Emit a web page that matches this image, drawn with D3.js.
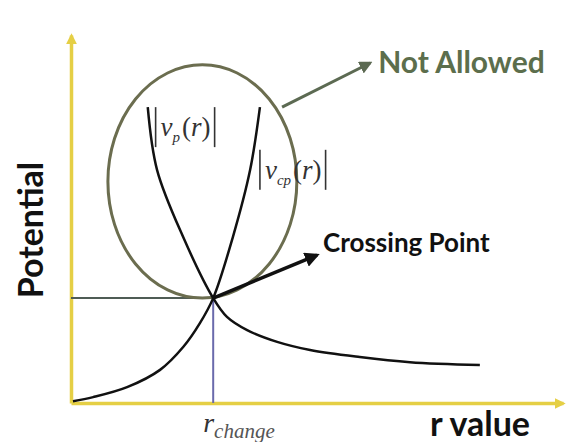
<!DOCTYPE html>
<html>
<head>
<meta charset="utf-8">
<script src="https://cdn.jsdelivr.net/npm/d3@7"></script>
<style>
  body { margin: 0; background: #fff; }
  svg { display: block; }
</style>
</head>
<body>
<svg width="566" height="442"></svg>
<script>
(function (d3) {
  // conceptual units: r from 0 to 10, potential from 0 to 10
  const rDomain = [0, 10];
  const vDomain = [0, 10];

  // |v_p(r)| : falls steeply, passes the crossing, then flattens out
  const vpR = [1.56, 1.75, 2.28, 2.89, 3.17, 3.58, 4.19, 4.86, 5.87, 6.89, 8.31];
  const vpV = [8.04, 6.33, 4.51, 2.85, 2.34, 1.98, 1.66, 1.44, 1.25, 1.11, 1.03];

  // |v_cp(r)| : rises slowly from the origin, then steeply
  const vcpR = [0.04, 0.45, 1.14, 1.81, 2.28, 2.62, 2.89, 3.29, 3.64, 3.84];
  const vcpV = [0.05, 0.16, 0.43, 0.90, 1.52, 2.17, 2.85, 4.51, 6.33, 8.04];

  // crossing point
  const rChange = 2.89;
  const vChange = 2.85;

  // "not allowed" region (centre r, centre V, half width, half height)
  const region = [2.67, 6.02, 1.92, 3.17];

  // annotation arrows [r0, v0, r1, v1]
  const notAllowedArrow = [4.29, 8.04, 6.08, 9.24];
  const crossingArrow = [2.89, 2.85, 5.00, 4.02];

  // label anchors [r, v]
  const vpLabelAt = [1.72, 8.04];
  const vcpLabelAt = [3.84, 6.88];

  const svg = d3.select('svg');
  const margin = { top: 35, right: 3, bottom: 39, left: 71 };
  const width = +svg.attr('width');
  const height = +svg.attr('height');

  const xScale = d3.scaleLinear()
    .domain(rDomain)
    .range([margin.left, width - margin.right]);
  const yScale = d3.scaleLinear()
    .domain(vDomain)
    .range([height - margin.bottom, margin.top]);

  const defs = svg.append('defs');
  const marker = (id, color, size) => {
    defs.append('marker')
      .attr('id', id)
      .attr('viewBox', '0 0 10 10')
      .attr('refX', 8).attr('refY', 5)
      .attr('markerUnits', 'userSpaceOnUse')
      .attr('markerWidth', size).attr('markerHeight', size)
      .attr('orient', 'auto')
      .append('path')
        .attr('d', 'M0,0L10,5L0,10z')
        .attr('fill', color);
  };
  marker('head-yellow', '#e5cf45', 11);
  marker('head-green', '#5c6a52', 13);
  marker('head-black', '#111', 15);

  // axes without ticks, just the yellow arrows
  const xAxisG = svg.append('g')
    .attr('transform', `translate(0,${yScale(0)})`)
    .call(d3.axisBottom(xScale).tickValues([]).tickSizeOuter(0));
  const yAxisG = svg.append('g')
    .attr('transform', `translate(${xScale(0)},0)`)
    .call(d3.axisLeft(yScale).tickValues([]).tickSizeOuter(0));
  [xAxisG, yAxisG].forEach(g => g.select('.domain')
    .attr('stroke', '#e5cf45')
    .attr('stroke-width', 3.5)
    .attr('marker-end', 'url(#head-yellow)'));

  // guide lines to the crossing point
  svg.append('line')
    .attr('x1', xScale(0)).attr('y1', yScale(vChange))
    .attr('x2', xScale(rChange)).attr('y2', yScale(vChange))
    .attr('stroke', '#4f5c55').attr('stroke-width', 2);
  svg.append('line')
    .attr('x1', xScale(rChange)).attr('y1', yScale(vChange))
    .attr('x2', xScale(rChange)).attr('y2', yScale(0))
    .attr('stroke', '#6a6aac').attr('stroke-width', 2);

  // not-allowed ellipse
  svg.append('ellipse')
    .attr('cx', xScale(region[0]))
    .attr('cy', yScale(region[1]))
    .attr('rx', xScale(region[0] + region[2]) - xScale(region[0]))
    .attr('ry', yScale(region[1]) - yScale(region[1] + region[3]))
    .attr('fill', 'none')
    .attr('stroke', '#6b6d4f')
    .attr('stroke-width', 3);

  // potential curves
  const line = d3.line()
    .x(d => xScale(d[0]))
    .y(d => yScale(d[1]))
    .curve(d3.curveCatmullRom.alpha(0.5));
  svg.append('path')
    .datum(vpR.map((r, i) => [r, vpV[i]]))
    .attr('d', line)
    .attr('fill', 'none').attr('stroke', '#111').attr('stroke-width', 2.5);
  svg.append('path')
    .datum(vcpR.map((r, i) => [r, vcpV[i]]))
    .attr('d', line)
    .attr('fill', 'none').attr('stroke', '#111').attr('stroke-width', 2.5);

  // annotation arrows
  svg.append('line')
    .attr('x1', xScale(notAllowedArrow[0])).attr('y1', yScale(notAllowedArrow[1]))
    .attr('x2', xScale(notAllowedArrow[2])).attr('y2', yScale(notAllowedArrow[3]))
    .attr('stroke', '#5c6a52').attr('stroke-width', 3)
    .attr('marker-end', 'url(#head-green)');
  svg.append('line')
    .attr('x1', xScale(crossingArrow[0])).attr('y1', yScale(crossingArrow[1]))
    .attr('x2', xScale(crossingArrow[2])).attr('y2', yScale(crossingArrow[3]))
    .attr('stroke', '#111').attr('stroke-width', 3.5)
    .attr('marker-end', 'url(#head-black)');

  // text labels
  const sans = 'Lato, "Open Sans", sans-serif';
  const serif = '"Liberation Serif", "DejaVu Serif", serif';

  svg.append('text')
    .attr('x', xScale(notAllowedArrow[2]) + 8)
    .attr('y', yScale(notAllowedArrow[3]) + 10)
    .attr('font-family', sans).attr('font-weight', 'bold')
    .attr('font-size', 30).attr('fill', '#5c6e4c')
    .text('Not Allowed');

  svg.append('text')
    .attr('x', xScale(crossingArrow[2]) + 6)
    .attr('y', yScale(crossingArrow[3]) - 3)
    .attr('font-family', sans).attr('font-weight', 'bold')
    .attr('font-size', 26).attr('fill', '#111')
    .text('Crossing Point');

  svg.append('text')
    .attr('transform', `translate(43,230) rotate(-90)`)
    .attr('text-anchor', 'middle')
    .attr('font-family', sans).attr('font-weight', 'bold')
    .attr('font-size', 34).attr('fill', '#111')
    .text('Potential');

  svg.append('text')
    .attr('x', 530).attr('y', 436)
    .attr('text-anchor', 'end')
    .attr('font-family', sans).attr('font-weight', 'bold')
    .attr('font-size', 34).attr('fill', '#111')
    .text('r value');

  const rLabel = svg.append('text')
    .attr('x', xScale(rChange) - 10).attr('y', 432)
    .attr('font-family', serif).attr('font-style', 'italic')
    .attr('fill', '#333');
  rLabel.append('tspan').attr('font-size', 28).text('r');
  rLabel.append('tspan').attr('font-size', 21).attr('dy', 6).attr('fill', '#555').text('change');

  // |v_p(r)| and |v_cp(r)| labels with their bars
  const absLabel = (at, sub) => {
    const x = xScale(at[0]);
    const yTop = yScale(at[1]);
    const g = svg.append('g').attr('fill', '#333').attr('stroke', '#333');
    g.append('line').attr('x1', x).attr('x2', x)
      .attr('y1', yTop).attr('y2', yTop + 40).attr('stroke-width', 1.6);
    const t = g.append('text')
      .attr('x', x + 5).attr('y', yTop + 29)
      .attr('font-family', serif).attr('stroke', 'none')
      .attr('font-size', 27);
    t.append('tspan').attr('font-style', 'italic').text('v');
    t.append('tspan').attr('font-style', 'italic').attr('font-size', 15).attr('dy', 6).text(sub);
    t.append('tspan').attr('dy', -6).attr('dx', 2).text('(');
    t.append('tspan').attr('font-style', 'italic').text('r');
    t.append('tspan').text(')');
    const xr = x + 5 + t.node().getComputedTextLength() + 6;
    g.append('line').attr('x1', xr).attr('x2', xr)
      .attr('y1', yTop).attr('y2', yTop + 40).attr('stroke-width', 1.6);
  };
  absLabel(vpLabelAt, 'p');
  absLabel(vcpLabelAt, 'cp');

}(d3));
</script>
</body>
</html>
